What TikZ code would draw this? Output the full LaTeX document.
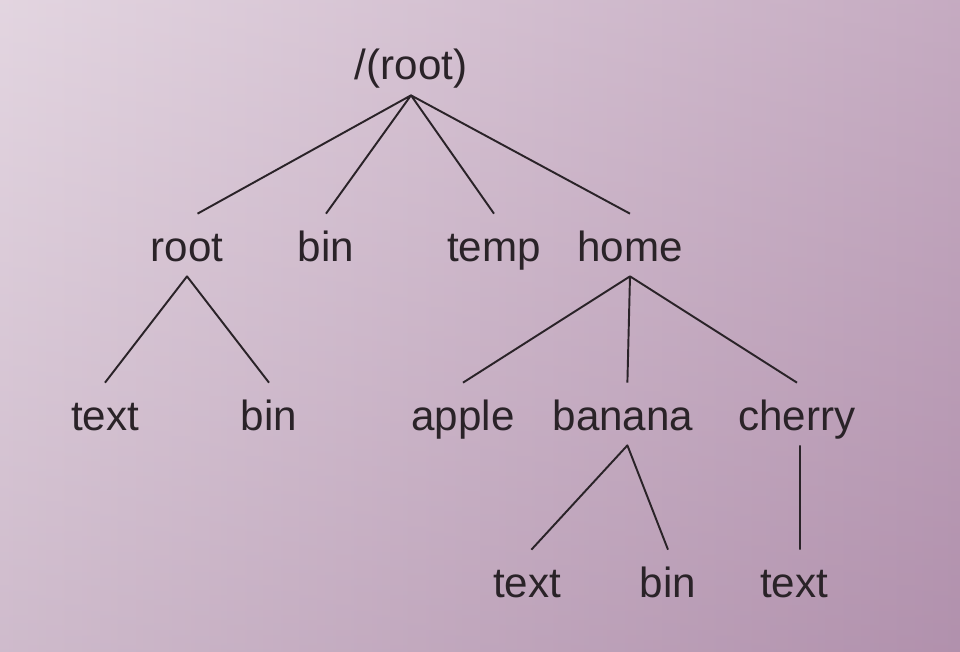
\documentclass[tikz,border=0pt]{standalone}
\usepackage{fontspec}
\setmainfont{Liberation Sans}
\definecolor{dirInk}{HTML}{2A2328}
\definecolor{paperLeft}{HTML}{DCCBD9}
\definecolor{paperMid}{HTML}{F0E7EE}
\definecolor{paperRight}{HTML}{B796B2}
\definecolor{paperLow}{HTML}{9A7C98}

\begin{document}
\begin{tikzpicture}[x=0.02cm,y=-0.02cm,
                    dir/.style={anchor=base,inner sep=0pt,text=dirInk,
                                text height=0.94cm,text depth=0.3cm,
                                font=\fontsize{24}{28}\selectfont},
                    edge/.style={draw=dirInk,line width=1.1pt,line join=round}]
  % paper background
  \shade[left color=paperLeft,middle color=paperMid,right color=paperRight]
    (0,0) rectangle (960,652);
  \shade[top color=white,bottom color=paperLow,opacity=0.2]
    (0,0) rectangle (960,652);
  \useasboundingbox (0,0) rectangle (960,652);

  \node[dir] (top) at (411,80) {/(root)};
  \node[dir] (root) at (187,261) {root};
  \node[dir] (bin) at (326,261) {bin};
  \node[dir] (temp) at (494,261) {temp};
  \node[dir] (home) at (630,261) {home};
  \node[dir] (rootText) at (105,430) {text};
  \node[dir] (rootBin) at (269,430) {bin};
  \node[dir] (apple) at (463,430) {apple};
  \node[dir] (banana) at (623,430) {banana};
  \node[dir] (cherry) at (797,430) {cherry};
  \node[dir] (bananaText) at (527,597) {text};
  \node[dir] (bananaBin) at (668,597) {bin};
  \node[dir] (cherryText) at (794,597) {text};

  \draw[edge] ([xshift=6pt]root.north) -- (top.south) -- (bin.north);
  \draw[edge] (temp.north) -- (top.south) -- (home.north);
  \draw[edge] (rootText.north) -- (root.south) -- (rootBin.north);
  \draw[edge] (apple.north) -- (home.south) -- (cherry.north);
  \draw[edge] (home.south) -- ([xshift=2.5pt]banana.north);
  \draw[edge] ([xshift=2.5pt]bananaText.north) -- ([xshift=2.5pt]banana.south)
    -- (bananaBin.north);
  \draw[edge] ([xshift=1.7pt]cherry.south) -- ([xshift=3.4pt]cherryText.north);
\end{tikzpicture}
\end{document}
